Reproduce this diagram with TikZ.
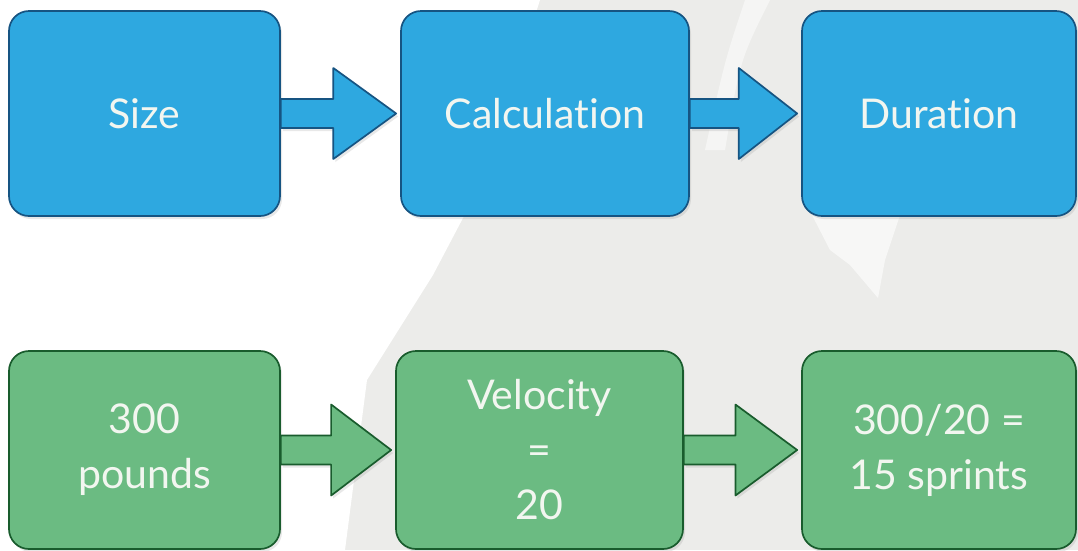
\documentclass[tikz,border=0pt]{standalone}
\usepackage{fontspec}
\setmainfont[Ligatures=NoCommon]{Lato}
\usetikzlibrary{calc,shadows}

\begin{document}
\begin{tikzpicture}
[x=1pt,y=-1pt,line join=round,
% Styles
box/.style={draw,line width=1.7pt,rounded corners=20pt,inner sep=0pt,
  minimum height=205pt,align=center,text=boxtext,
  font=\fontsize{41}{55}\selectfont,
  drop shadow={opacity=0.18,shadow xshift=2pt,shadow yshift=-3pt}},
plan box/.style={box,fill=planfill,draw=planline},
example box/.style={box,fill=examplefill,draw=exampleline,minimum height=198pt},
plan arrow/.style={fill=planfill,draw=planline,line width=1.7pt,
  drop shadow={opacity=0.18,shadow xshift=2pt,shadow yshift=-3pt}},
example arrow/.style={fill=examplefill,draw=exampleline,line width=1.7pt,
  drop shadow={opacity=0.18,shadow xshift=2pt,shadow yshift=-3pt}}]
% Colors
\definecolor{backgray}{RGB}{236,236,234}
\definecolor{planfill}{RGB}{46,168,224}
\definecolor{planline}{RGB}{22,84,130}
\definecolor{examplefill}{RGB}{107,187,130}
\definecolor{exampleline}{RGB}{25,92,45}
\definecolor{boxtext}{RGB}{242,246,240}
% Background
\fill[backgray] (0,0) rectangle (1078,550);
\fill[white] (0,0) -- (540,0) -- (483,180) -- (433,275) -- (367,380)
  -- (345,550) -- (0,550) -- cycle;
\fill[white,opacity=0.5] (745,0) .. controls (725,60) .. (705,150)
  -- (725,150) .. controls (740,60) .. (770,0) -- cycle;
\fill[white,opacity=0.6] (812,215) -- (900,215) -- (885,260) -- (878,298)
  -- (850,265) -- (830,250) -- cycle;
% The graphic
\node[plan box,minimum width=271pt] (size) at (144.5,113.5) {Size};
\node[plan box,minimum width=288pt] (calc) at (545,113.5) {Calculation};
\node[plan box,minimum width=274pt] (duration) at (939,113.5) {Duration};
\node[example box,minimum width=271pt] (pounds) at (144.5,450) {300\\pounds};
\node[example box,minimum width=287pt] (velocity) at (539.5,450) {Velocity\\=\\20};
\node[example box,minimum width=274pt] (sprints) at (939,450) {300/20 =\\15 sprints};
\foreach \from/\to/\kind in {size/calc/plan arrow,calc/duration/plan arrow,
  pounds/velocity/example arrow,velocity/sprints/example arrow}
\draw[\kind] ($(\from.east)+(0,-14.5)$)
  -- ($(\from.east)!.44!(\to.west)+(0,-14.5)$)
  -- ($(\from.east)!.44!(\to.west)+(0,-45.5)$)
  -- ($(\to.west)+(-4,0)$)
  -- ($(\from.east)!.44!(\to.west)+(0,45.5)$)
  -- ($(\from.east)!.44!(\to.west)+(0,14.5)$)
  -- ($(\from.east)+(0,14.5)$) -- cycle;
\end{tikzpicture}
\end{document}
